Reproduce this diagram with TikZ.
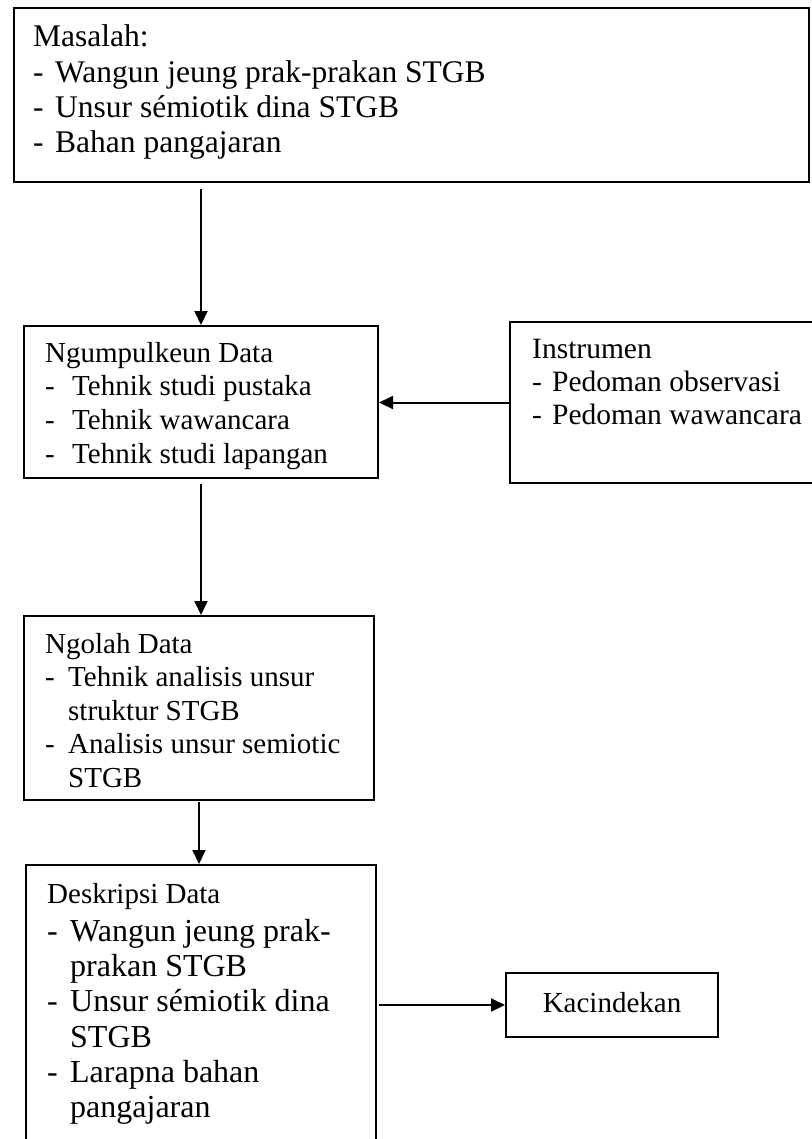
\documentclass[tikz,border=0pt]{standalone}
\usepackage{fontspec}
\setmainfont{Liberation Serif}
\usetikzlibrary{arrows.meta}
\newcommand\ditem[2]{\hbox{\hbox to #1{-\hfil}#2}}
\newcommand\dcont[2]{\hbox{\kern#1\relax #2}}
\tikzset{
  box/.style={draw, line width=2pt, inner sep=0pt, anchor=north west},
  txt/.style={inner sep=0pt, anchor=base west},
  arr/.style={line width=2pt, -{Triangle[length=14pt,width=13pt]}},
}
\begin{document}
\begin{tikzpicture}[x=1pt,y=-1pt]
\useasboundingbox (0,0) rectangle (811,1139);
% boxes
\node[box, minimum width=795pt, minimum height=174pt] (b1) at (13,7) {};
\node[box, minimum width=354pt, minimum height=152pt] (b2) at (23,325) {};
\node[box, minimum width=306pt, minimum height=161pt] (ins) at (509,321) {};
\node[box, minimum width=350pt, minimum height=184pt] (b3) at (23,615) {};
\node[box, minimum width=350pt, minimum height=290pt] (b4) at (25,864) {};
\node[draw, line width=2pt, minimum width=212pt, minimum height=64pt,
      text height=20pt, text depth=6pt, inner sep=0pt,
      font=\fontsize{29}{33}\selectfont] (k) at (612,1005) {Kacindekan};
% texts
\node[txt, font=\fontsize{31.5}{35.3}\selectfont] (t1) at (33,47) {\vtop{%
  \hbox{Masalah:}
  \ditem{22pt}{Wangun jeung prak-prakan STGB}
  \ditem{22pt}{Unsur sémiotik dina STGB}
  \ditem{22pt}{Bahan pangajaran}}};
\node[txt, font=\fontsize{29}{33.7}\selectfont] (t2) at (45,362) {\vtop{%
  \hbox{Ngumpulkeun Data}
  \ditem{27pt}{Tehnik studi pustaka}
  \ditem{27pt}{Tehnik wawancara}
  \ditem{27pt}{Tehnik studi lapangan}}};
\node[txt, font=\fontsize{29.5}{33}\selectfont] (ti) at (532,358) {\vtop{%
  \hbox{Instrumen}
  \ditem{20pt}{Pedoman observasi}
  \ditem{20pt}{Pedoman wawancara}}};
\node[txt, font=\fontsize{29}{33.5}\selectfont] (t3) at (45,653) {\vtop{%
  \hbox{Ngolah Data}
  \ditem{23pt}{Tehnik analisis unsur}
  \dcont{23pt}{struktur STGB}
  \ditem{23pt}{Analisis unsur semiotic}
  \dcont{23pt}{STGB}}};
\node[txt, font=\fontsize{32}{35.3}\selectfont] (t4) at (47,903) {\vtop{%
  \hbox{\fontsize{29}{35.3}\selectfont Deskripsi Data}
  \kern3pt
  \ditem{23pt}{Wangun jeung prak-}
  \dcont{23pt}{prakan STGB}
  \ditem{23pt}{Unsur sémiotik dina}
  \dcont{23pt}{STGB}
  \ditem{23pt}{Larapna bahan}
  \dcont{23pt}{pangajaran}}};
% connectors
\draw[arr] ([yshift=-6pt]b1.south -| b2.north) -- (b2.north);
\draw[arr, shorten <=5pt] (b2.south) -- (b2.south |- b3.north);
\draw[arr, shorten <=1pt] (b3.south) -- (b3.south |- b4.north);
\draw[arr] (ins.west) -- (ins.west -| b2.east);
\draw[arr, shorten <=2pt] (b4.east |- k.west) -- (k.west);
\end{tikzpicture}
\end{document}
